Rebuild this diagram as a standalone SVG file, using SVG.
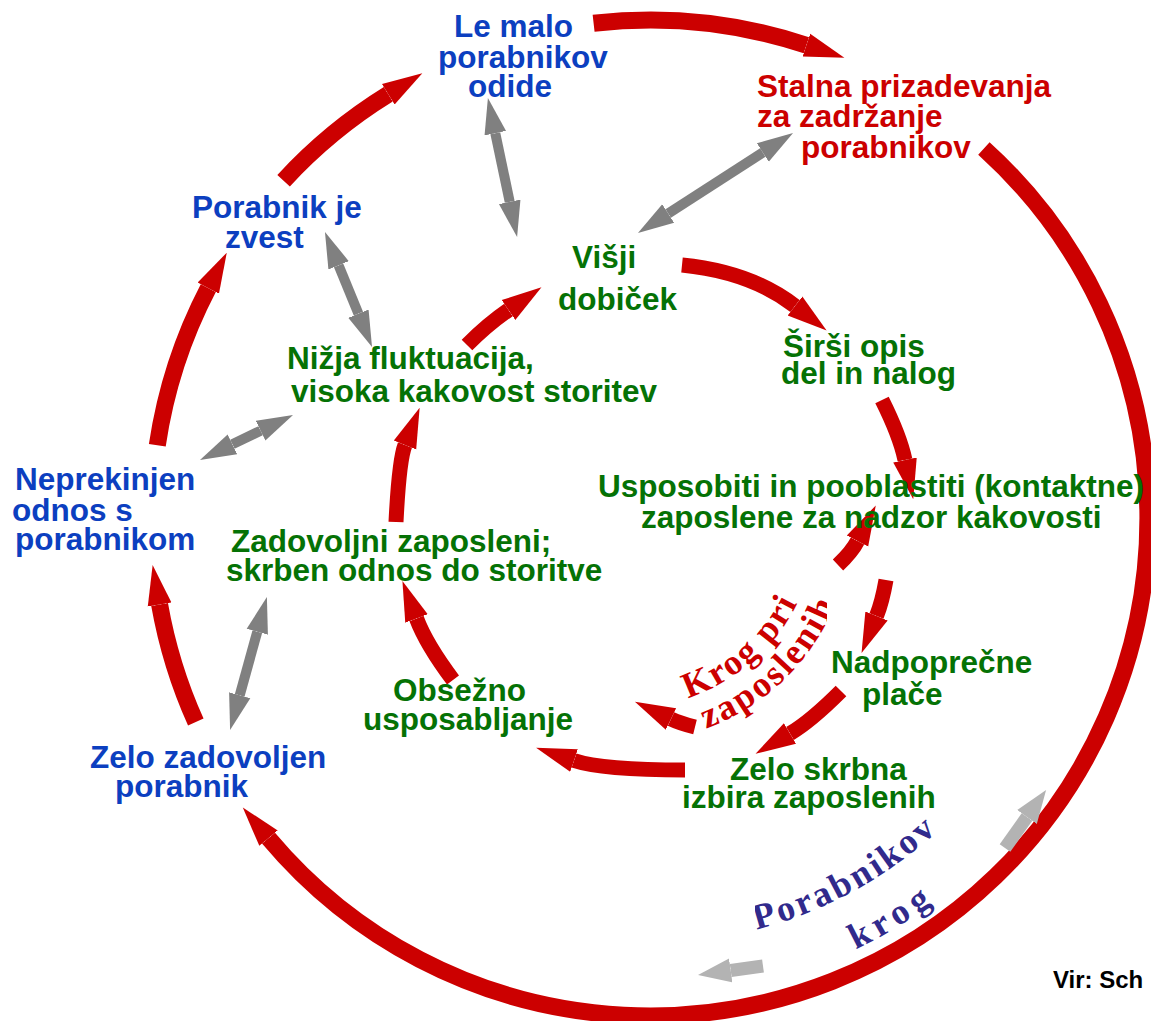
<svg xmlns="http://www.w3.org/2000/svg" width="1151" height="1021" viewBox="0 0 1151 1021">
<defs>
<style>
.t{font-family:"Liberation Sans",Arial,sans-serif;font-weight:bold;font-size:31.5px}
.b{fill:#0c3fc0}
.g{fill:#057205}
.r{fill:#cc0000}
.k{fill:#000;font-size:24px}
.cv{font-family:"Liberation Serif","Times New Roman",serif;font-weight:bold}
.ro{fill:none;stroke:#cc0000;stroke-width:17;marker-end:url(#hr)}
.ri{fill:none;stroke:#cc0000;stroke-width:15;marker-end:url(#hr)}
.gr{fill:none;stroke:#808080;stroke-width:10;marker-start:url(#hg);marker-end:url(#hg)}
.lg{fill:none;stroke:#b3b3b3;stroke-width:13;marker-end:url(#hl)}
</style>
<marker id="hr" markerUnits="userSpaceOnUse" viewBox="0 -13 42 26" markerWidth="42" markerHeight="26" refX="0" refY="0" orient="auto"><path d="M0,-12 L40,0 L0,12 Z" fill="#cc0000"/></marker>
<marker id="hg" markerUnits="userSpaceOnUse" viewBox="0 -12 38 24" markerWidth="38" markerHeight="24" refX="0" refY="0" orient="auto-start-reverse"><path d="M0,-11 L36,0 L0,11 Z" fill="#808080"/></marker>
<marker id="hl" markerUnits="userSpaceOnUse" viewBox="0 -13 36 26" markerWidth="36" markerHeight="26" refX="0" refY="0" orient="auto"><path d="M0,-12 L33,0 L0,12 Z" fill="#b3b3b3"/></marker>
<path id="pk1" d="M687.8,697.8 A187,187 0 0 0 810.6,568.4"/>
<path id="pk2" d="M705.9,728.6 A222,222 0 0 0 844.4,577.5"/>
<path id="pp1" d="M756.4,929.5 A425,425 0 0 0 998,762"/>
<path id="pp2" d="M855.8,949.4 A478,478 0 0 0 1041.6,792.2"/>
<clipPath id="ck"><rect x="0" y="0" width="827" height="1021"/></clipPath>
<clipPath id="cp"><rect x="755" y="812" width="396" height="209"/></clipPath>
</defs>
<rect width="1151" height="1021" fill="#fff"/>
<g id="connectors">
<path class="ro" d="M283.6,180.7 A498,498 0 0 1 388.3,94.3"/>
<path class="ro" d="M593.6,23.2 A498,498 0 0 1 806.4,45.2"/>
<path class="ro" d="M983.9,148.5 A498,498 0 1 1 268.5,838.1"/>
<path class="ro" d="M195.8,722.1 A498,498 0 0 1 159.6,604.5"/>
<path class="ro" d="M157.3,445.2 A498,498 0 0 1 208.3,288.1"/>
<path class="ri" d="M682,265 Q751,271.9 795,306"/>
<path class="ri" d="M882,400 Q899.9,435.8 905,460"/>
<path class="ri" d="M838,565 Q852,551.7 857.5,541"/>
<path class="ri" d="M886,580 Q882.1,602.1 876.5,616"/>
<path class="ri" d="M841,691 Q810.7,721.3 790,733.5"/>
<path class="ri" d="M695,727 Q680,723.3 671,719"/>
<path class="ri" d="M685,770 Q602.1,770 574,760.5"/>
<path class="ri" d="M453,680 Q426.2,644.3 416.5,618.5"/>
<path class="ri" d="M396,522 Q399.1,460 405,445"/>
<path class="ri" d="M467,345 Q487.8,324.2 508.5,310"/>
<path class="gr" d="M495.3,133.2 L509.7,201.8"/>
<path class="gr" d="M762.8,152.5 L668.2,213.5"/>
<path class="gr" d="M338.6,265.3 L358.4,313.7"/>
<path class="gr" d="M260.6,430.7 L232.4,444.3"/>
<path class="gr" d="M257.3,631.7 L239.7,695.3"/>
<path class="lg" d="M1005,848 L1027,817"/>
<path class="lg" d="M763,966 L730.7,970.5"/>
</g>
<g id="n-le-malo" class="t b"><text x="454" y="37">Le malo</text><text x="438" y="68">porabnikov</text><text x="468" y="97">odide</text></g>
<g id="n-stalna" class="t r"><text x="757" y="97">Stalna prizadevanja</text><text x="757" y="127">za zadržanje</text><text x="801" y="158">porabnikov</text></g>
<g id="n-zvest" class="t b"><text x="192" y="218">Porabnik je</text><text x="225" y="248">zvest</text></g>
<g id="n-visji" class="t g"><text x="572" y="268">Višji</text><text x="558" y="310">dobiček</text></g>
<g id="n-sirsi" class="t g"><text x="783" y="357">Širši opis</text><text x="781" y="384">del in nalog</text></g>
<g id="n-nizja" class="t g"><text x="287" y="369">Nižja fluktuacija,</text><text x="291" y="402">visoka kakovost storitev</text></g>
<g id="n-usposobiti" class="t g"><text x="598" y="497">Usposobiti in pooblastiti (kontaktne)</text><text x="641" y="528">zaposlene za nadzor kakovosti</text></g>
<g id="n-neprekinjen" class="t b"><text x="15" y="490">Neprekinjen</text><text x="12" y="521">odnos s</text><text x="15" y="550">porabnikom</text></g>
<g id="n-zadovoljni" class="t g"><text x="231" y="552">Zadovoljni zaposleni;</text><text x="226" y="581">skrben odnos do storitve</text></g>
<g id="n-nadpovprecne" class="t g"><text x="831" y="673">Nadpoprečne</text><text x="862" y="705">plače</text></g>
<g id="n-obsezno" class="t g"><text x="393" y="701">Obsežno</text><text x="363" y="730">usposabljanje</text></g>
<g id="n-skrbna" class="t g"><text x="730" y="780">Zelo skrbna</text><text x="682" y="808">izbira zaposlenih</text></g>
<g id="n-zadovoljen" class="t b"><text x="90" y="768">Zelo zadovoljen</text><text x="115" y="797">porabnik</text></g>
<g id="l-krog-zaposleni" class="cv r" font-size="36" clip-path="url(#ck)"><text letter-spacing="2"><textPath href="#pk1">Krog pri</textPath></text><text letter-spacing="2.5"><textPath href="#pk2">zaposlenih</textPath></text></g>
<g id="l-porabnikov-krog" class="cv" fill="#312a8c" font-size="36" clip-path="url(#cp)"><text letter-spacing="3"><textPath href="#pp1">Porabnikov</textPath></text><text letter-spacing="6"><textPath href="#pp2">krog</textPath></text></g>
<g id="source" class="t k"><text x="1053" y="988">Vir: Sch</text></g>
</svg>
